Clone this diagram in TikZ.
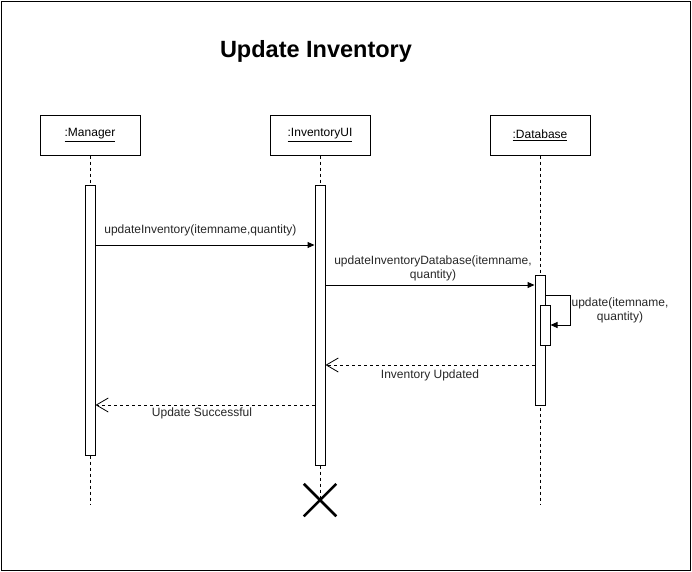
\documentclass[tikz,border=0pt]{standalone}
\usepackage{fontspec}
\setmainfont{Liberation Sans}
\usetikzlibrary{arrows.meta, positioning, calc, shapes.misc}

\begin{document}
\begin{tikzpicture}[
        x=1pt, y=-1pt,
        actor/.style = {rectangle, draw, line width=1pt, minimum width=100pt, minimum height=40pt, inner sep=0pt},
        act/.style = {rectangle, draw, fill=white, line width=1pt, minimum width=10pt, inner sep=0pt},
        life/.style = {line width=1pt, dash pattern=on 3pt off 3pt},
        call/.style = {-{Triangle[length=7pt, width=6pt]}, line width=1pt},
        reply/.style = {-{Straight Barb[length=12pt, width=14pt]}, line width=0.8pt, dash pattern=on 3pt off 3pt},
        lbl/.style = {font=\fontsize{12}{14}\selectfont, text=black!85, align=center},
        font = \fontsize{12}{14}\selectfont,
    ]
        \useasboundingbox (0,0) rectangle (692,571);
        \draw[line width=1pt] (1,1) rectangle (690,570);
        \node[font=\fontsize{23.5}{28}\selectfont\bfseries] (title) at (316,51) {Update Inventory};

        % 参与者
        \node[actor] (mgr) at (90,135) {\underline{:Manager}};
        \node[actor] (ui) at (320,135) {\underline{:InventoryUI}};
        \node[actor] (db) at (540,135) {\underline{:Database}};

        % 生命线的终点
        \coordinate (mgrEnd) at (90,505);
        \coordinate (dbEnd) at (540,505);
        \draw[life] (mgr) -- (mgrEnd);
        \draw[life] (db) -- (dbEnd);

        % 激活条
        \node[act, minimum height=270pt] (mgrA) at (90,320) {};
        \node[act, minimum height=280pt] (uiA) at (320,325) {};
        \node[act, minimum height=130pt] (dbA) at (540,340) {};
        \node[act, minimum height=40pt] (dbB) at (545,325) {};

        \node[cross out, draw, line width=2.5pt, minimum size=30pt, inner sep=0pt] (kill) at (320,500) {};
        \draw[life] (ui) -- (uiA);
        \draw[life] (uiA) -- (kill.center);

        % 消息所在的高度
        \coordinate (m1) at (0,245);
        \coordinate (m2) at (0,285);
        \coordinate (m3) at (0,295);
        \coordinate (m4) at (0,325);
        \coordinate (m5) at (0,365);
        \coordinate (m6) at (0,405);
        \coordinate (T0) at (570,295);
        \coordinate (T1) at (570,325);

        \draw[call] (mgrA.east |- m1) -- (uiA.west |- m1)
            node[pos=0, anchor=west, lbl, xshift=5pt, yshift=15pt] {updateInventory(itemname,quantity)};
        \draw[call] (uiA.east |- m2) -- (dbA.west |- m2)
            node[midway, above, lbl, inner sep=4pt, xshift=3pt] {updateInventoryDatabase(itemname,\\quantity)};
        \draw[call] (dbA.east |- m3) -- (T0) -- (T1) -- (dbB.east |- m4);
        \node[lbl] at (620,310) {update(itemname,\\quantity)};
        \draw[reply] (dbA.west |- m5) -- (uiA.east |- m5)
            node[midway, below, lbl, inner sep=4pt] {Inventory Updated};
        \draw[reply] (uiA.west |- m6) -- (mgrA.east |- m6)
            node[midway, below, lbl, inner sep=2pt, xshift=-3pt] {Update Successful};
    \end{tikzpicture}
\end{document}
